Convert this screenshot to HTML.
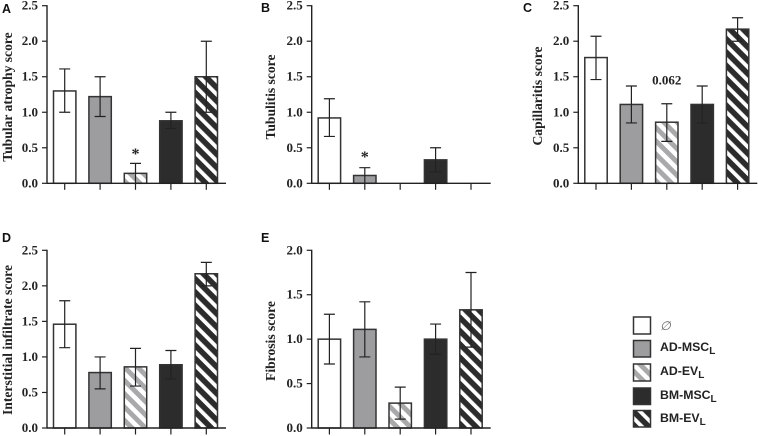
<!DOCTYPE html>
<html lang="en">
<head>
<meta charset="utf-8">
<title>Kidney histology scores</title>
<style>
html,body{margin:0;padding:0;background:#fff;width:758px;height:436px;overflow:hidden}
svg{display:block}
.tick{font:bold 13px "Liberation Serif",serif;fill:#222}
.ytitle{font:bold 13.6px "Liberation Serif",serif;fill:#222}
.letter{font:bold 12.5px "Liberation Sans",sans-serif;fill:#111}
.legend{font:bold 12.3px "Liberation Sans",sans-serif;fill:#222}
.note{font-family:"Liberation Serif",serif;font-weight:bold;fill:#222}
</style>
</head>
<body>
<svg id="figure" xmlns="http://www.w3.org/2000/svg" width="758" height="436" viewBox="0 0 758 436">
  <defs>
    <pattern id="hatch-grey" patternUnits="userSpaceOnUse" width="9.4" height="9.4" patternTransform="rotate(45)">
      <rect width="9.4" height="9.4" fill="#fff"/>
      <rect width="9.4" height="4.9" fill="#a9a9ab"/>
    </pattern>
    <pattern id="hatch-dark" patternUnits="userSpaceOnUse" width="9.4" height="9.4" patternTransform="rotate(45)">
      <rect width="9.4" height="9.4" fill="#fff"/>
      <rect width="9.4" height="5.6" fill="#2c2c2c"/>
    </pattern>
  </defs>
  <rect width="758" height="436" fill="#fff"/>

  <g id="legend">
    <g>
      <rect x="633.5" y="317" width="17" height="17" fill="#fff" stroke="#333" stroke-width="1.5"/>
      <text x="660" y="330" class="legend" style="font-weight:normal;font-style:italic;fill:#666">∅</text>
    </g>
    <g>
      <rect x="633.5" y="340.5" width="17" height="16.5" fill="#9d9da0" stroke="#333" stroke-width="1.5"/>
      <text x="660" y="351" class="legend">AD-MSC<tspan font-size="10" dy="3">L</tspan></text>
    </g>
    <g>
      <rect x="633.5" y="364" width="17" height="17" fill="url(#hatch-grey)" stroke="#333" stroke-width="1.5"/>
      <text x="660" y="375" class="legend">AD-EV<tspan font-size="10" dy="3">L</tspan></text>
    </g>
    <g>
      <rect x="633.5" y="388" width="17" height="16.5" fill="#2c2c2c" stroke="#333" stroke-width="1.5"/>
      <text x="660" y="399" class="legend">BM-MSC<tspan font-size="10" dy="3">L</tspan></text>
    </g>
    <g>
      <rect x="633.5" y="410.5" width="17" height="16.5" fill="url(#hatch-dark)" stroke="#333" stroke-width="1.5"/>
      <text x="660" y="422" class="legend">BM-EV<tspan font-size="10" dy="3">L</tspan></text>
    </g>
  </g>
</svg>

<script>
var categories = ["control", "ad-msc", "ad-ev", "bm-msc", "bm-ev"];
var ticks25 = ["0.0", "0.5", "1.0", "1.5", "2.0", "2.5"];
var ticks20 = ["0.0", "0.5", "1.0", "1.5", "2.0"];

var tubularValues = [1.30, 1.22, 0.14, 0.88, 1.50];
var tubularHigh = [1.61, 1.50, 0.28, 1.00, 2.00];
var tubularLow = [1.00, 0.94, 0.00, 0.77, 1.00];

var tubulitisValues = [0.92, 0.11, null, 0.33, null];
var tubulitisHigh = [1.19, 0.22, null, 0.50, null];
var tubulitisLow = [0.66, 0.00, null, 0.16, null];

var capillaritisValues = [1.77, 1.11, 0.86, 1.11, 2.17];
var capillaritisHigh = [2.07, 1.37, 1.12, 1.37, 2.33];
var capillaritisLow = [1.46, 0.85, 0.59, 0.85, 2.00];

var infiltrateValues = [1.46, 0.78, 0.86, 0.89, 2.17];
var infiltrateHigh = [1.79, 1.00, 1.12, 1.09, 2.33];
var infiltrateLow = [1.13, 0.55, 0.59, 0.69, 2.00];

var fibrosisValues = [1.00, 1.11, 0.28, 1.00, 1.33];
var fibrosisHigh = [1.28, 1.42, 0.46, 1.17, 1.75];
var fibrosisLow = [0.72, 0.80, 0.10, 0.83, 0.91];

var NS = "http://www.w3.org/2000/svg";
var root = document.getElementById("figure");
var barFills = {
  "control": "#fff",
  "ad-msc": "#9d9da0",
  "ad-ev": "url(#hatch-grey)",
  "bm-msc": "#2c2c2c",
  "bm-ev": "url(#hatch-dark)"
};

function make(tag, parent, attrs, text) {
  var node = document.createElementNS(NS, tag);
  for (var k in attrs) node.setAttribute(k, attrs[k]);
  if (text !== undefined) node.textContent = text;
  parent.appendChild(node);
  return node;
}

function drawPanel(p) {
  var yMax = parseFloat(p.ticks[p.ticks.length - 1]);
  function yScale(v) { return p.y0 + (p.yTop - p.y0) * (v / yMax); }
  function xScale(i) { return p.x0 + 17.7 + i * 35.4; }

  var g = make("g", root, {});
  
  

  var letter = make("text", g, { x: p.letterX, y: p.letterY, "class": "letter" }, p.letter);
  
  

  var title = make("text", g, {
    "class": "ytitle", "text-anchor": "middle",
    transform: "translate(" + p.titleX + "," + p.titleY + ") rotate(-90)"
  }, p.title);
  
  

  categories.forEach(function (cat, i) {
    if (p.values[i] === null) return;
    var top = yScale(p.values[i]);
    var bar = make("rect", g, {
      x: xScale(i) - 11.2, y: top, width: 22.4, height: p.y0 - top,
      fill: barFills[cat], stroke: "#333", "stroke-width": 1.5
    });
    
    
  });

  categories.forEach(function (cat, i) {
    if (p.high[i] === null) return;
    var cx = xScale(i), hi = yScale(p.high[i]), lo = yScale(p.low[i]);
    var err = make("path", g, {
      d: "M" + (cx - 5.5) + " " + hi + "H" + (cx + 5.5) +
         "M" + cx + " " + hi + "V" + lo +
         "M" + (cx - 5.5) + " " + lo + "H" + (cx + 5.5),
      fill: "none", stroke: "#222", "stroke-width": 1.2
    });
    
    
  });

  var yAxis = make("line", g, { x1: p.x0, x2: p.x0, y1: p.yTop - 0.6, y2: p.y0 + 0.6, stroke: "#222", "stroke-width": 1.4 });
  
  

  var xAxis = make("line", g, { x1: p.x0, x2: p.x0 + 179, y1: p.y0, y2: p.y0, stroke: "#222", "stroke-width": 1.4 });
  
  

  p.ticks.forEach(function (label) {
    var y = yScale(parseFloat(label));
    var tick = make("line", g, { x1: p.x0 - 5, x2: p.x0, y1: y, y2: y, stroke: "#222", "stroke-width": 1.2 });
    
    
    var text = make("text", g, { x: p.x0 - 9, y: y + 4, "class": "tick", "text-anchor": "end" }, label);
    
    
  });

  categories.forEach(function (cat, i) {
    var cx = xScale(i);
    var tick = make("line", g, { x1: cx, x2: cx, y1: p.y0, y2: p.y0 + 6.5, stroke: "#222", "stroke-width": 1.2 });
    
    
  });

  if (p.note) {
    var cxNote = xScale(p.note.index);
    var note = make("text", g, {
      x: cxNote, y: yScale(p.high[p.note.index]) - p.note.gap,
      "class": "note", "text-anchor": "middle", "font-size": p.note.size
    }, p.note.text);
    
    
  }
}

drawPanel({ id: "tubular-atrophy", letter: "A", letterX: 2, letterY: 13, title: "Tubular atrophy score", titleX: 12, titleY: 97,
  x0: 47, y0: 183.3, yTop: 5.7, ticks: ticks25, values: tubularValues, high: tubularHigh, low: tubularLow,
  note: { index: 2, text: "*", gap: 4.5, size: 16 } });

drawPanel({ id: "tubulitis", letter: "B", letterX: 261, letterY: 12, title: "Tubulitis score", titleX: 275, titleY: 97,
  x0: 311.7, y0: 183.3, yTop: 5.7, ticks: ticks25, values: tubulitisValues, high: tubulitisHigh, low: tubulitisLow,
  note: { index: 1, text: "*", gap: 5.7, size: 16 } });

drawPanel({ id: "capillaritis", letter: "C", letterX: 523, letterY: 12, title: "Capillaritis score", titleX: 542, titleY: 96,
  x0: 578.3, y0: 183.3, yTop: 5.7, ticks: ticks25, values: capillaritisValues, high: capillaritisHigh, low: capillaritisLow,
  note: { index: 2, text: "0.062", gap: 19, size: 13 } });

drawPanel({ id: "interstitial-infiltrate", letter: "D", letterX: 2, letterY: 242, title: "Interstitial infiltrate score", titleX: 12, titleY: 340,
  x0: 47, y0: 428, yTop: 250.3, ticks: ticks25, values: infiltrateValues, high: infiltrateHigh, low: infiltrateLow });

drawPanel({ id: "fibrosis", letter: "E", letterX: 261, letterY: 242, title: "Fibrosis score", titleX: 275, titleY: 341,
  x0: 311.7, y0: 428, yTop: 250.3, ticks: ticks20, values: fibrosisValues, high: fibrosisHigh, low: fibrosisLow });
</script>
</body>
</html>
